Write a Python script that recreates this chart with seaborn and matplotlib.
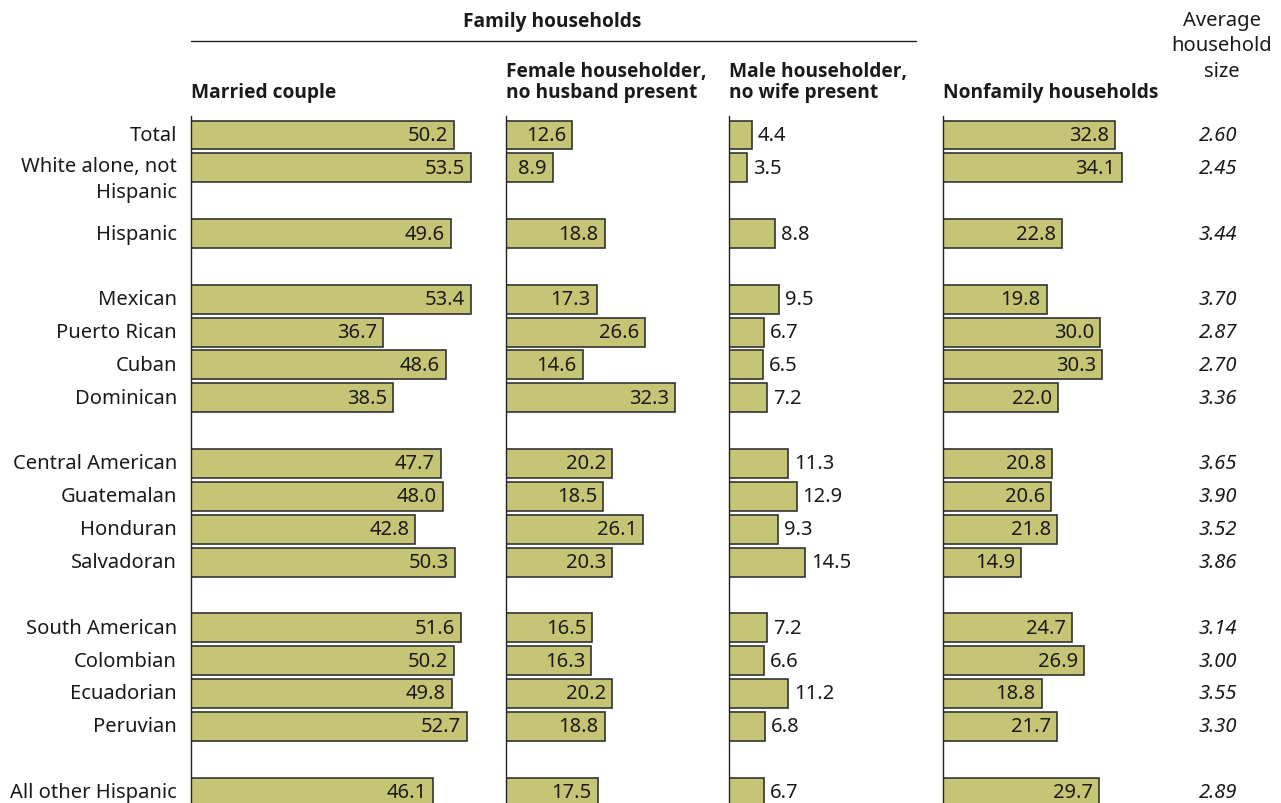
import matplotlib
matplotlib.use("Agg")
import matplotlib.pyplot as plt
import seaborn as sns
import pandas as pd

# ─────────────────────────────────────────────
# data
# ─────────────────────────────────────────────
rows = ["Total", "White alone, not\nHispanic", "Hispanic", "Mexican", "Puerto Rican",
        "Cuban", "Dominican", "Central American", "Guatemalan", "Honduran",
        "Salvadoran", "South American", "Colombian", "Ecuadorian", "Peruvian",
        "All other Hispanic"]
row_pos = [0, 1, 3, 5, 6, 7, 8, 10, 11, 12, 13, 15, 16, 17, 18, 20]

married   = [50.2, 53.5, 49.6, 53.4, 36.7, 48.6, 38.5, 47.7, 48.0, 42.8, 50.3, 51.6, 50.2, 49.8, 52.7, 46.1]
female    = [12.6, 8.9, 18.8, 17.3, 26.6, 14.6, 32.3, 20.2, 18.5, 26.1, 20.3, 16.5, 16.3, 20.2, 18.8, 17.5]
male      = [4.4, 3.5, 8.8, 9.5, 6.7, 6.5, 7.2, 11.3, 12.9, 9.3, 14.5, 7.2, 6.6, 11.2, 6.8, 6.7]
nonfamily = [32.8, 34.1, 22.8, 19.8, 30.0, 30.3, 22.0, 20.8, 20.6, 21.8, 14.9, 24.7, 26.9, 18.8, 21.7, 29.7]
avg_size  = ["2.60", "2.45", "3.44", "3.70", "2.87", "2.70", "3.36", "3.65", "3.90", "3.52",
             "3.86", "3.14", "3.00", "3.55", "3.30", "2.89"]

panel_titles = ["Married couple", "Female householder,\nno husband present",
                "Male householder,\nno wife present", "Nonfamily households"]

# ─────────────────────────────────────────────
# style
# ─────────────────────────────────────────────
sns.set_theme(style="white")
plt.rcParams["font.family"] = ["Noto Sans", "DejaVu Sans"]

BAR_COLOR = "#c5c575"
EDGE      = "#333333"
TXT       = "#1a1a1a"
HEAD_FONT = ["Open Sans", "DejaVu Sans"]
FS        = 14.5
HFS       = 13.8
W, H = 1281, 804
PX_PER_UNIT = 5.24
PT = 72 / 100  # pixels -> points at dpi 100

fig = plt.figure(figsize=(12.81, 8.04), dpi=100)

# left px, xlim, label inside?
panels = [
    (191, 58, married, True),
    (506, 40, female, True),
    (729, 38, male, False),
    (943, 42, nonfamily, True),
]

top_px = 117
ax_top = 1 - top_px / H
pitch = 32.85
first_row_px = 136
ylim = ((H - first_row_px) / pitch, -(first_row_px - top_px) / pitch)

axes = []
for (left_px, xmax, vals, inside), title in zip(panels, panel_titles):
    ax = fig.add_axes([left_px / W, 0.0, xmax * PX_PER_UNIT / W, ax_top])
    df = pd.DataFrame({"pos": row_pos, "val": vals})
    sns.barplot(data=df, x="val", y="pos", orient="h", native_scale=True,
                color=BAR_COLOR, edgecolor=EDGE, linewidth=1.2, width=0.88,
                saturation=1, ax=ax)
    ax.set_xlim(0, xmax)
    ax.set_ylim(*ylim)
    ax.set_xlabel("")
    ax.set_ylabel("")
    ax.set_xticks([])
    ax.set_yticks([])
    for s in ["top", "right", "bottom"]:
        ax.spines[s].set_visible(False)
    ax.spines["left"].set_color("#222222")
    ax.spines["left"].set_linewidth(1.0)

    for p, v in zip(row_pos, vals):
        if inside:
            ax.annotate(f"{v:.1f}", (v, p), xytext=(-6 * PT, 0), textcoords="offset points",
                        ha="right", va="center", fontsize=FS, color=TXT)
        else:
            ax.annotate(f"{v:.1f}", (v, p), xytext=(6 * PT, 0), textcoords="offset points",
                        ha="left", va="center", fontsize=FS, color=TXT)

    # panel headers
    fig.text(left_px / W, 1 - 103 / H, title, ha="left", va="bottom",
             fontsize=HFS, fontweight="bold", family=HEAD_FONT, color=TXT,
             linespacing=1.1)
    axes.append(ax)

# row labels
ax0 = axes[0]
for p, lab in zip(row_pos, rows):
    if "\n" in lab:
        ax0.annotate(lab, (0, p), xytext=(-14 * PT, 12 * PT), textcoords="offset points",
                     ha="right", va="top", fontsize=FS, color=TXT, linespacing=1.4)
    else:
        ax0.annotate(lab, (0, p), xytext=(-14 * PT, 0), textcoords="offset points",
                     ha="right", va="center", fontsize=FS, color=TXT)

# average household size column
ax3 = axes[3]
for p, v in zip(row_pos, avg_size):
    ax3.annotate(v, (1237 / W, p), xycoords=("figure fraction", "data"),
                 ha="right", va="center", fontsize=FS, style="italic", color=TXT)

fig.text(1222 / W, 1 - 11 / H, "Average\nhousehold\nsize", ha="center", va="top",
         fontsize=FS, color=TXT, linespacing=1.36)

# group header
fig.text(552 / W, 1 - 22 / H, "Family households", ha="center", va="center",
         fontsize=HFS, fontweight="bold", family=HEAD_FONT, color=TXT)
fig.add_artist(plt.Line2D([191 / W, 916 / W], [1 - 42 / H, 1 - 42 / H],
                          color="#222222", linewidth=1.0))

fig.savefig("out.png", dpi=100)
